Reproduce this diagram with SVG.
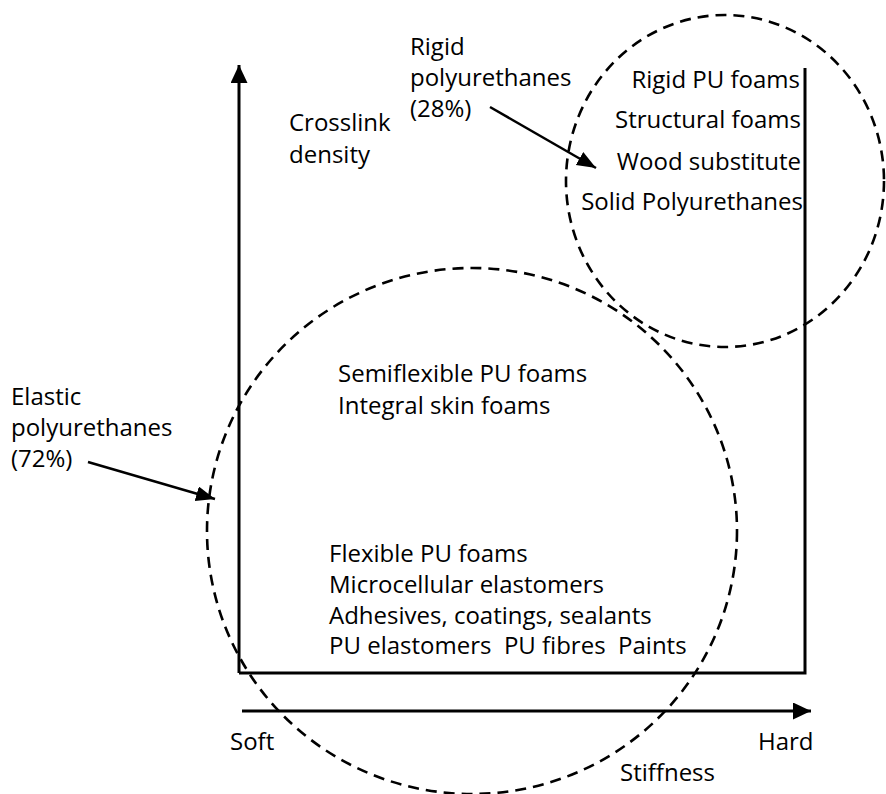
<svg xmlns="http://www.w3.org/2000/svg" width="886" height="794" viewBox="0 0 886 794">
<style>
text{font-family:"Open Sans","Noto Sans","Liberation Sans",sans-serif;font-size:24px;fill:#000}
.ax{stroke:#000;stroke-width:3;fill:none}
.dash{stroke:#000;stroke-width:2.6;fill:none;stroke-dasharray:11 7}
.r{text-anchor:end}
</style>
<defs>
<marker id="ah" markerUnits="userSpaceOnUse" markerWidth="18" markerHeight="18" refX="18" refY="8.5" orient="auto">
<path d="M0,0 L18,8.5 L0,17 z" fill="#000"/>
</marker>
<marker id="ah2" markerUnits="userSpaceOnUse" markerWidth="20" markerHeight="18" refX="19" refY="7.5" orient="auto">
<path d="M0,0 L19,7.5 L0,15 z" fill="#000"/>
</marker>
</defs>
<rect width="886" height="794" fill="#fff"/>
<g id="connectors">
<path class="ax" d="M239,673 L239,65" marker-end="url(#ah)"/>
<path class="ax" d="M239,673 H805 V68"/>
<path class="ax" d="M242,711 H811" marker-end="url(#ah)"/>
<ellipse class="dash" cx="472" cy="531" rx="265" ry="263"/>
<ellipse class="dash" cx="725" cy="181" rx="159" ry="166"/>
<path stroke="#000" stroke-width="2.5" fill="none" d="M88,462 L215,499" marker-end="url(#ah2)"/>
<path stroke="#000" stroke-width="2.5" fill="none" d="M490,107 L596,168" marker-end="url(#ah2)"/>
</g>
<g id="rigid-label">
<text x="410" y="55">Rigid</text>
<text x="410" y="86">polyurethanes</text>
<text x="410" y="117">(28%)</text>
</g>
<g id="y-label">
<text x="289" y="131">Crosslink</text>
<text x="289" y="163">density</text>
</g>
<g id="rigid-list">
<text class="r" x="800" y="88">Rigid PU foams</text>
<text class="r" x="801" y="128">Structural foams</text>
<text class="r" x="801" y="170">Wood substitute</text>
<text class="r" x="803" y="210">Solid Polyurethanes</text>
</g>
<g id="semi-list">
<text x="338" y="382">Semiflexible PU foams</text>
<text x="338" y="414">Integral skin foams</text>
</g>
<g id="elastic-label">
<text x="11" y="405">Elastic</text>
<text x="11" y="436">polyurethanes</text>
<text x="11" y="467">(72%)</text>
</g>
<g id="flex-list">
<text x="329" y="562">Flexible PU foams</text>
<text x="329" y="593">Microcellular elastomers</text>
<text x="329" y="624">Adhesives, coatings, sealants</text>
<text x="329" y="654" xml:space="preserve">PU elastomers  PU fibres  Paints</text>
</g>
<g id="x-labels">
<text x="230" y="750">Soft</text>
<text x="758" y="750">Hard</text>
<text x="620" y="781">Stiffness</text>
</g>
</svg>
